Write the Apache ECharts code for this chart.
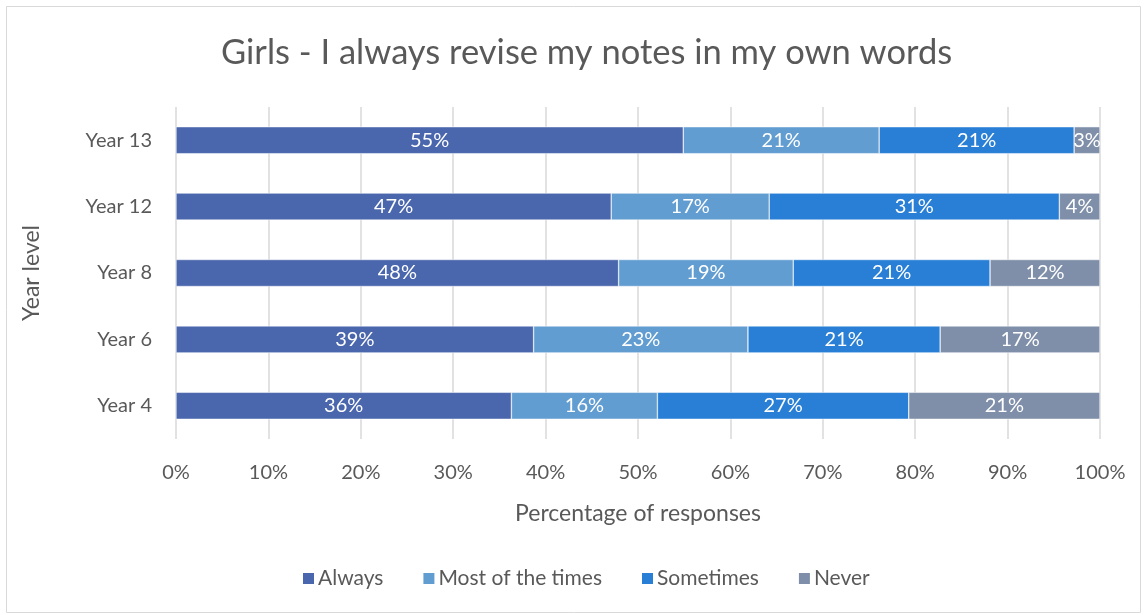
<!DOCTYPE html>
<html><head><meta charset="utf-8">
<script src="https://cdn.jsdelivr.net/npm/echarts@6/dist/echarts.min.js"></script>
<style>html,body{margin:0;padding:0;background:#fff}#c{width:1144px;height:615px}</style>
</head><body><div id="c"></div>
<script>
const categories = ['Year 4', 'Year 6', 'Year 8', 'Year 12', 'Year 13'];
const always = [36.3, 38.7, 47.9, 47.1, 54.9];
const mostOfTheTimes = [15.8, 23.2, 18.9, 17.1, 21.2];
const sometimes = [27.2, 20.8, 21.3, 31.4, 21.1];
const never = [20.7, 17.3, 11.9, 4.4, 2.8];
const xTicks = [0, 10, 20, 30, 40, 50, 60, 70, 80, 90, 100];

const FONT = 'Lato';
const TXT = '#595959';
const seriesDefs = [
  ['Always', always, '#4A66AC'],
  ['Most of the times', mostOfTheTimes, '#629DD1'],
  ['Sometimes', sometimes, '#297FD5'],
  ['Never', never, '#7F8FA9']
];
const chart = echarts.init(document.getElementById('c'));
chart.setOption({
  animation: false,
  textStyle: {fontFamily: FONT},
  graphic: [{type: 'rect', shape: {x: 6.5, y: 6.5, width: 1134, height: 606}, style: {fill: 'none', stroke: '#d9d9d9', lineWidth: 1}, silent: true}],
  title: {text: 'Girls - I always revise my notes in my own words', left: 216, top: 30,
    textStyle: {fontFamily: FONT, fontSize: 34.5, fontWeight: 'normal', color: TXT}},
  legend: {bottom: 21, left: 296, itemWidth: 13, itemHeight: 13, itemGap: 38, icon: 'rect',
    textStyle: {fontFamily: FONT, fontSize: 21, color: TXT, padding: [0, 0, 0, -2]}},
  grid: {left: 176, right: 44, top: 107, bottom: 176, containLabel: false},
  xAxis: {type: 'value', min: 0, max: 100, interval: 10,
    name: 'Percentage of responses', nameLocation: 'middle', nameGap: 63,
    nameTextStyle: {fontFamily: FONT, fontSize: 23, color: TXT},
    axisLabel: {formatter: v => xTicks.includes(v) ? v + '%' : '', fontFamily: FONT, fontSize: 20, color: TXT, margin: 24},
    axisLine: {show: false}, axisTick: {show: false},
    splitLine: {show: true, lineStyle: {color: '#d9d9d9', width: 1.5}}},
  yAxis: {type: 'category', data: categories,
    name: 'Year level', nameLocation: 'middle', nameGap: 133, nameRotate: 90,
    nameTextStyle: {fontFamily: FONT, fontSize: 23, color: TXT},
    axisLabel: {fontFamily: FONT, fontSize: 20, color: TXT, margin: 24},
    axisLine: {show: false}, axisTick: {show: false}},
  series: seriesDefs.map(([name, data, color]) => ({
    name, type: 'bar', stack: 'total', data, barWidth: 27,
    itemStyle: {color, borderColor: '#fff', borderWidth: 0.5},
    label: {show: true, position: 'inside', color: '#fff', fontFamily: FONT, fontSize: 20,
      formatter: p => Math.round(p.value) + '%'}
  }))
});
</script></body></html>
